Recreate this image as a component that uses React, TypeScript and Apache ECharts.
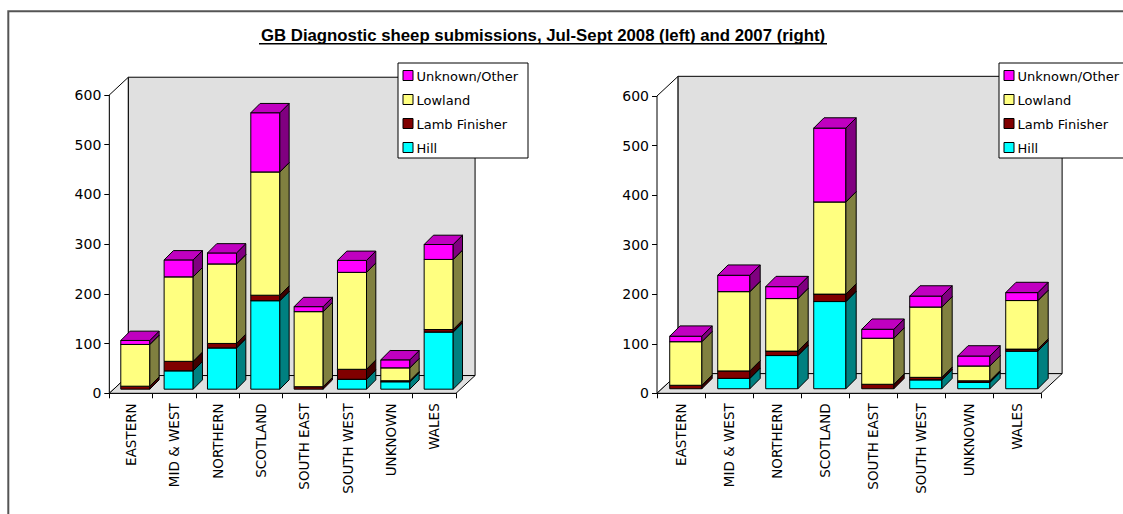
import React, { useEffect, useRef } from "react";
import * as echarts from "echarts";

// Regions (x-axis categories)
const categories = [
  "EASTERN",
  "MID & WEST",
  "NORTHERN",
  "SCOTLAND",
  "SOUTH EAST",
  "SOUTH WEST",
  "UNKNOWN",
  "WALES",
];

// Stack order, bottom to top
const seriesNames = ["Hill", "Lamb Finisher", "Lowland", "Unknown/Other"];

// Jul-Sept 2008
const hill2008 = [0, 37, 83, 178, 0, 20, 15, 115];
const lamb2008 = [6, 19, 9, 11, 5, 20, 2, 5];
const lowland2008 = [84, 170, 160, 248, 151, 195, 26, 141];
const unknown2008 = [8, 34, 22, 119, 10, 24, 16, 30];

// Jul-Sept 2007
const hill2007 = [0, 21, 67, 176, 0, 18, 13, 76];
const lamb2007 = [7, 15, 9, 15, 9, 5, 3, 4];
const lowland2007 = [88, 160, 106, 186, 93, 142, 30, 98];
const unknown2007 = [11, 33, 24, 149, 18, 22, 20, 16];

const yMin = 0;
const yMax = 600;
const yStep = 100;

const TITLE = "GB Diagnostic sheep submissions, Jul-Sept 2008 (left) and 2007 (right)";

// Face colours per series: front, right side, top
const FRONT = ["#00FFFF", "#800000", "#FFFF80", "#FF00FF"];
const SIDE = ["#008080", "#400000", "#808040", "#800080"];
const TOP = ["#00C0C0", "#600000", "#C0C060", "#C000C0"];

const FONT = '"DejaVu Sans", Verdana, sans-serif';
const EDGE = { stroke: "#000", lineWidth: 1 };
const OVERLAY_Z = 50;

// [categoryIndex, stackBase, value] for one layer of a stack
function layerData(stacks: number[][], k: number) {
  return categories.map((_, i) => {
    let base = 0;
    for (let j = 0; j < k; j++) base += stacks[j][i];
    return [i, base, stacks[k][i]];
  });
}

// Oblique 3D box segment for one layer of a stacked column
function boxRenderer(k: number) {
  return (params: any, api: any) => {
    const val = api.value(2);
    if (!(val > 0)) return null;
    const i = api.value(0);
    const base = api.value(1);
    const band = api.size([1, 0])[0];
    const p0 = api.coord([i, base]);
    const p1 = api.coord([i, base + val]);
    const w = band * 0.67;
    const x0 = p0[0] - w / 2 + band * 0.1;
    const x1 = x0 + w;
    const oy = -band * 0.095;
    const yb = p0[1] + oy;
    const yt = p1[1] + oy;
    const d = band * 0.215;
    return {
      type: "group",
      children: [
        {
          type: "polygon",
          shape: { points: [[x0, yb], [x1, yb], [x1, yt], [x0, yt]] },
          style: { fill: FRONT[k], ...EDGE },
        },
        {
          type: "polygon",
          shape: { points: [[x1, yb], [x1 + d, yb - d], [x1 + d, yt - d], [x1, yt]] },
          style: { fill: SIDE[k], ...EDGE },
        },
        {
          type: "polygon",
          shape: { points: [[x0, yt], [x1, yt], [x1 + d, yt - d], [x0 + d, yt - d]] },
          style: { fill: TOP[k], ...EDGE },
        },
      ],
    };
  };
}

// Side wall, back wall and floor of the 3D plot area
function wallsRenderer(params: any) {
  const cs = params.coordSys;
  const { x, y } = cs;
  const w = cs.width;
  const h = cs.height;
  const band = w / categories.length;
  const dx = band * 0.44;
  const dy = -band * 0.41;
  return {
    type: "group",
    children: [
      {
        type: "polygon",
        shape: { points: [[x, y], [x + dx, y + dy], [x + dx, y + h + dy], [x, y + h]] },
        style: { fill: "#FFFFFF", ...EDGE },
      },
      {
        type: "polygon",
        shape: {
          points: [[x + dx, y + dy], [x + w + dx, y + dy], [x + w + dx, y + h + dy], [x + dx, y + h + dy]],
        },
        style: { fill: "#E0E0E0", ...EDGE },
      },
      {
        type: "polygon",
        shape: { points: [[x, y + h], [x + w, y + h], [x + w + dx, y + h + dy], [x + dx, y + h + dy]] },
        style: { fill: "#E0E0E0", ...EDGE },
      },
    ],
  };
}

function legendGraphic(left: number, top: number, width: number) {
  const order = [3, 2, 1, 0];
  const children: any[] = [
    {
      type: "rect",
      z: OVERLAY_Z,
      shape: { x: left + 0.5, y: top + 0.5, width, height: 95 },
      style: { fill: "#FFFFFF", stroke: "#000", lineWidth: 1 },
    },
  ];
  order.forEach((k, row) => {
    const cy = top + 12.5 + row * 24;
    children.push({
      type: "rect",
      z: OVERLAY_Z + 1,
      shape: { x: left + 5.5, y: cy - 4.5, width: 10, height: 10 },
      style: { fill: FRONT[k], stroke: "#000", lineWidth: 1 },
    });
    children.push({
      type: "text",
      z: OVERLAY_Z + 1,
      x: left + 19,
      y: cy + 1,
      style: {
        text: seriesNames[k],
        font: `13px ${FONT}`,
        fill: "#000",
        textAlign: "left",
        textVerticalAlign: "middle",
      },
    });
  });
  return { type: "group", z: OVERLAY_Z, children };
}

function axesFor(gridIndex: number) {
  return {
    x: {
      type: "category",
      gridIndex,
      data: categories,
      boundaryGap: true,
      axisLine: { show: true, lineStyle: { color: "#000", width: 1 } },
      axisTick: { show: true, length: 5, alignWithLabel: false, interval: 0, lineStyle: { color: "#000" } },
      axisLabel: {
        interval: 0,
        rotate: 90,
        margin: 10,
        color: "#000",
        fontSize: 13.5,
        fontFamily: FONT,
      },
      splitLine: { show: false },
    },
    y: {
      type: "value",
      gridIndex,
      min: yMin,
      max: yMax,
      interval: yStep,
      axisLine: { show: true, lineStyle: { color: "#000", width: 1 } },
      axisTick: { show: true, length: 5, lineStyle: { color: "#000" } },
      axisLabel: { margin: 8, color: "#000", fontSize: 14, fontFamily: FONT },
      splitLine: { show: false },
    },
  };
}

function seriesFor(gridIndex: number, stacks: number[][]) {
  const list: any[] = [
    {
      type: "custom",
      name: "walls",
      xAxisIndex: gridIndex,
      yAxisIndex: gridIndex,
      data: [[0, 0]],
      clip: false,
      silent: true,
      z: 1,
      renderItem: wallsRenderer,
    },
  ];
  seriesNames.forEach((name, k) => {
    list.push({
      type: "custom",
      name,
      xAxisIndex: gridIndex,
      yAxisIndex: gridIndex,
      data: layerData(stacks, k),
      encode: { x: 0, y: 1 },
      clip: false,
      z: 3,
      renderItem: boxRenderer(k),
    });
  });
  return list;
}

export default function App() {
  const ref = useRef<HTMLDivElement>(null);

  useEffect(() => {
    if (!ref.current) return;
    const chart = echarts.init(ref.current, null, { renderer: "svg" });
    const a0 = axesFor(0);
    const a1 = axesFor(1);
    chart.setOption({
      animation: false,
      backgroundColor: "#FFFFFF",
      grid: [
        { left: 109.3, top: 95, width: 346.7, height: 298.3 },
        { left: 657, top: 96, width: 384, height: 297.3 },
      ],
      xAxis: [a0.x, a1.x],
      yAxis: [a0.y, a1.y],
      series: [
        ...seriesFor(0, [hill2008, lamb2008, lowland2008, unknown2008]),
        ...seriesFor(1, [hill2007, lamb2007, lowland2007, unknown2007]),
      ],
      graphic: [
        {
          type: "rect",
          z: OVERLAY_Z,
          shape: { x: 8.3, y: 11.2, width: 1200, height: 600 },
          style: { fill: "none", stroke: "#555555", lineWidth: 2 },
          silent: true,
        },
        {
          type: "text",
          z: OVERLAY_Z,
          x: 543,
          y: 35,
          style: {
            text: TITLE,
            font: 'bold 16.8px "Liberation Sans", Arial, sans-serif',
            fill: "#000",
            textAlign: "center",
            textVerticalAlign: "middle",
          },
        },
        {
          type: "line",
          z: OVERLAY_Z,
          shape: { x1: 259, y1: 43.8, x2: 827, y2: 43.8 },
          style: { stroke: "#000", lineWidth: 1.6 },
        },
        legendGraphic(397.5, 62.5, 130),
        legendGraphic(998.5, 62.5, 140),
      ],
    });
    return () => chart.dispose();
  }, []);

  return (
    <div
      ref={ref}
      style={{ position: "fixed", left: 0, top: 0, width: 1123, height: 514, background: "#FFFFFF" }}
    />
  );
}
